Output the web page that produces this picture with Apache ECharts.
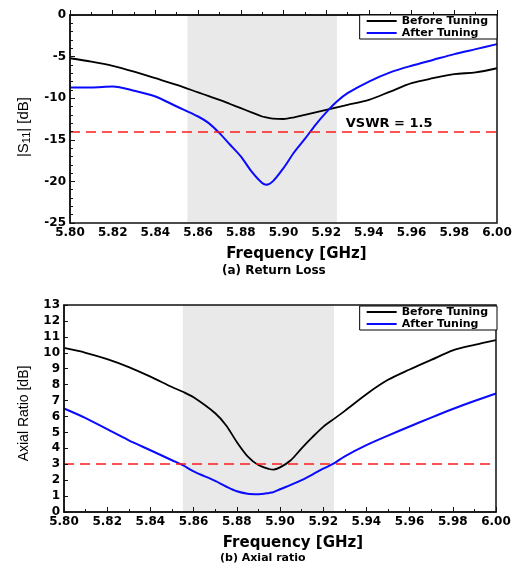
<!DOCTYPE html>
<html>
<head>
<meta charset="utf-8">
<script src="https://cdn.jsdelivr.net/npm/echarts@6/dist/echarts.min.js"></script>
<style>
html,body{margin:0;padding:0;background:#fff;}
#chart{width:520px;height:565px;}
</style>
</head>
<body>
<div id="chart"></div>
<script>
// ---- Data ----
const seriesNames = ['Before Tuning', 'After Tuning'];

// (a) Return loss |S11| [dB]
const freqA = [5.80,5.81,5.82,5.83,5.84,5.85,5.86,5.865,5.87,5.875,5.88,5.885,5.89,5.892,5.895,5.90,5.905,5.91,5.915,5.92,5.925,5.93,5.94,5.95,5.96,5.97,5.98,5.99,6.00];
const s11Before = [-5.2,-5.6,-6.1,-6.8,-7.6,-8.4,-9.3,-9.75,-10.2,-10.7,-11.2,-11.7,-12.2,-12.3,-12.45,-12.5,-12.3,-12.0,-11.7,-11.4,-11.1,-10.8,-10.2,-9.2,-8.2,-7.6,-7.1,-6.9,-6.4];
const s11After  = [-8.7,-8.7,-8.6,-9.1,-9.8,-11.0,-12.2,-13.0,-14.2,-15.6,-17.0,-18.8,-20.2,-20.4,-20.0,-18.4,-16.5,-14.9,-13.2,-11.7,-10.4,-9.4,-8.0,-6.9,-6.1,-5.4,-4.7,-4.1,-3.5];
const vswrLevel = -14;
const vswrText = 'VSWR = 1.5';

// (b) Axial ratio [dB]
const freqB = [5.80,5.81,5.82,5.83,5.84,5.85,5.855,5.86,5.87,5.875,5.88,5.885,5.89,5.895,5.897,5.90,5.905,5.91,5.915,5.92,5.925,5.93,5.94,5.95,5.96,5.97,5.98,5.99,6.00];
const arBefore = [10.3,10.0,9.6,9.1,8.5,7.85,7.55,7.2,6.2,5.45,4.4,3.5,2.95,2.7,2.66,2.8,3.25,4.0,4.7,5.35,5.85,6.35,7.4,8.3,8.95,9.55,10.15,10.5,10.8];
const arAfter  = [6.5,5.9,5.2,4.5,3.88,3.25,2.94,2.55,1.95,1.6,1.3,1.15,1.12,1.2,1.25,1.43,1.7,2.0,2.35,2.72,3.05,3.5,4.2,4.8,5.37,5.93,6.47,6.97,7.44];
const arLevel = 3;

// shaded band (GHz)
const band = [5.855, 5.925];

// axes
const xMin = 5.80, xMax = 6.00, xInterval = 0.02;
const yA = {min: -25, max: 0, interval: 5};
const yB = {min: 0, max: 13, interval: 1};

const captionA = '(a) Return Loss';
const captionB = '(b) Axial ratio';
const xName = 'Frequency [GHz]';

// ---- Chart ----
const pair = (xs, ys) => xs.map((x, i) => [x, ys[i]]);
const boldFont = 'DejaVu Sans';
const axisColor = '#111';

function xAxisCfg(gridIndex) {
  return {
    type: 'value', gridIndex, min: xMin, max: xMax, interval: xInterval,
    name: xName, nameLocation: 'middle', nameGap: 24,
    nameTextStyle: {fontFamily: boldFont, fontWeight: 'bold', fontSize: 15, color: '#000', padding: [0, 0, 0, 26]},
    axisLine: {show: true, lineStyle: {color: axisColor, width: 1.5}},
    axisTick: {show: true, inside: true, length: 5, lineStyle: {color: axisColor}},
    minorTick: {show: true, splitNumber: 2, length: 3, lineStyle: {color: axisColor}},
    axisLabel: {fontFamily: boldFont, fontWeight: 'bold', fontSize: 12, color: '#000', margin: 4, formatter: v => v.toFixed(2)},
    splitLine: {show: false}, z: 10
  };
}

function legendCfg(top) {
  return {data: seriesNames, orient: 'vertical', right: 23, top: top, itemGap: 0, itemWidth: 30, itemHeight: 2,
    icon: 'rect', padding: [0, 9, 0, 7], backgroundColor: '#fff', borderColor: '#000', borderWidth: 1, z: 20,
    textStyle: {fontFamily: boldFont, fontWeight: 'bold', fontSize: 11, color: '#000', lineHeight: 12}};
}

const option = {
  animation: false,
  backgroundColor: '#fff',
  grid: [
    {left: 70, top: 15, width: 427, height: 208, show: true, borderColor: axisColor, borderWidth: 1.5, backgroundColor: 'transparent', z: 10},
    {left: 64, top: 305, width: 432, height: 207, show: true, borderColor: axisColor, borderWidth: 1.5, backgroundColor: 'transparent', z: 10}
  ],
  legend: [legendCfg(15), legendCfg(306)],
  xAxis: [xAxisCfg(0), xAxisCfg(1)],
  yAxis: [
    {type: 'value', gridIndex: 0, min: yA.min, max: yA.max, interval: yA.interval,
     name: '|S{sub|11}| [dB]', nameLocation: 'middle', nameGap: 38, nameRotate: 90,
     nameTextStyle: {fontFamily: 'Liberation Sans', fontSize: 15, color: '#000', padding: [0, 16, 0, 0],
       rich: {sub: {fontFamily: 'Liberation Sans', fontSize: 11, verticalAlign: 'bottom', padding: [6, 0, 0, 0], color: '#000'}}},
     axisLine: {show: true, lineStyle: {color: axisColor, width: 1.5}},
     axisTick: {show: true, inside: true, length: 5, lineStyle: {color: axisColor}},
     minorTick: {show: true, splitNumber: 5, length: 3, lineStyle: {color: axisColor}},
     axisLabel: {fontFamily: boldFont, fontWeight: 'bold', fontSize: 12, color: '#000', margin: 4},
     splitLine: {show: false}, z: 10},
    {type: 'value', gridIndex: 1, min: yB.min, max: yB.max, interval: yB.interval,
     name: 'Axial Ratio [dB]', nameLocation: 'middle', nameGap: 33, nameRotate: 90,
     nameTextStyle: {fontFamily: 'Liberation Sans', fontSize: 14, color: '#000', padding: [0, 10, 0, 0]},
     axisLine: {show: true, lineStyle: {color: axisColor, width: 1.5}},
     axisTick: {show: true, inside: true, length: 4, lineStyle: {color: axisColor}},
     axisLabel: {fontFamily: boldFont, fontWeight: 'bold', fontSize: 12, color: '#000', margin: 4},
     splitLine: {show: false}, z: 10}
  ],
  series: [
    {name: seriesNames[0], type: 'line', xAxisIndex: 0, yAxisIndex: 0, data: pair(freqA, s11Before),
     smooth: 0.3, symbol: 'none', lineStyle: {color: '#000', width: 1.8}, itemStyle: {color: '#000'},
     markArea: {silent: true, itemStyle: {color: '#e9e9e9'}, data: [[{xAxis: band[0]}, {xAxis: band[1]}]]},
     markLine: {silent: true, symbol: ['none', 'none'], label: {show: false},
       lineStyle: {color: '#ff1a1a', type: [10, 6], width: 1.5, opacity: 1}, data: [{yAxis: vswrLevel}]},
     markPoint: {silent: true, symbol: 'circle', symbolSize: 0,
       label: {show: true, position: 'inside', formatter: vswrText, fontFamily: boldFont, fontWeight: 'bold', fontSize: 13, color: '#000'},
       data: [{coord: [5.9495, -13.0]}]}},
    {name: seriesNames[1], type: 'line', xAxisIndex: 0, yAxisIndex: 0, data: pair(freqA, s11After),
     smooth: 0.3, symbol: 'none', lineStyle: {color: '#0a0aff', width: 2}, itemStyle: {color: '#0a0aff'}},
    {name: seriesNames[0], type: 'line', xAxisIndex: 1, yAxisIndex: 1, data: pair(freqB, arBefore),
     smooth: 0.3, symbol: 'none', lineStyle: {color: '#000', width: 1.8}, itemStyle: {color: '#000'},
     markArea: {silent: true, itemStyle: {color: '#e9e9e9'}, data: [[{xAxis: band[0]}, {xAxis: band[1]}]]},
     markLine: {silent: true, symbol: ['none', 'none'], label: {show: false},
       lineStyle: {color: '#ff1a1a', type: [10, 6], width: 1.5, opacity: 1}, data: [{yAxis: arLevel}]}},
    {name: seriesNames[1], type: 'line', xAxisIndex: 1, yAxisIndex: 1, data: pair(freqB, arAfter),
     smooth: 0.3, symbol: 'none', lineStyle: {color: '#0a0aff', width: 2}, itemStyle: {color: '#0a0aff'}}
  ],
  graphic: [
    {type: 'text', left: 222, top: 265, style: {text: captionA, font: 'bold 12px "DejaVu Sans"', fill: '#000'}},
    {type: 'text', left: 220, top: 553, style: {text: captionB, font: 'bold 11px "DejaVu Sans"', fill: '#000'}}
  ]
};

const chart = echarts.init(document.getElementById('chart'), null, {renderer: 'canvas'});
chart.setOption(option);
</script>
</body>
</html>
